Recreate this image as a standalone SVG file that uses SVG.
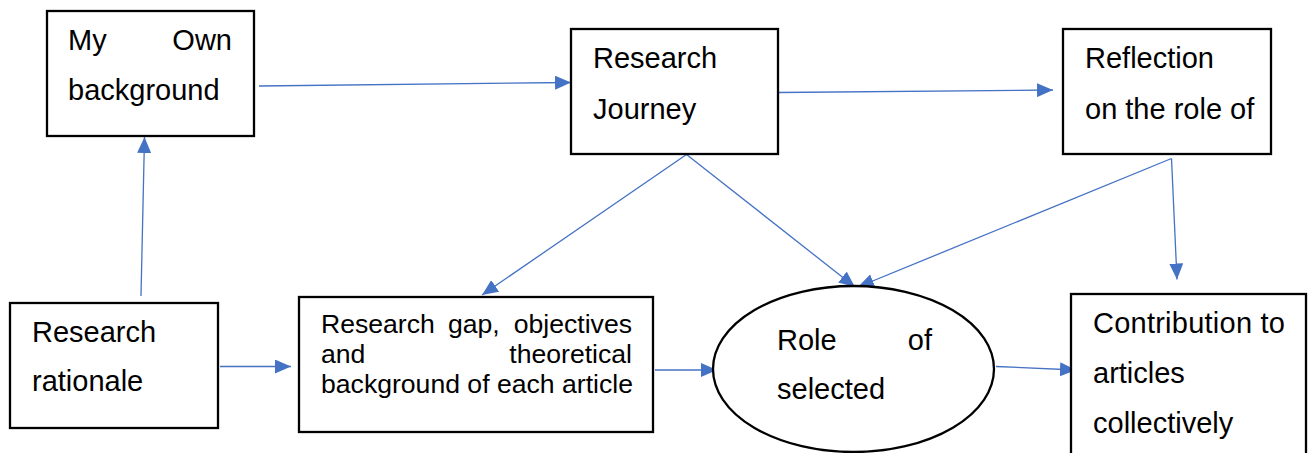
<svg xmlns="http://www.w3.org/2000/svg" width="1314" height="453" viewBox="0 0 1314 453">
  <style>
    .box { fill: #ffffff; stroke: #000000; stroke-width: 2.3; }
    .lbl { font-family: "Liberation Sans", Arial, sans-serif; font-size: 29px; fill: #000000; }
    .sm { font-size: 26.6px; }
    .end { text-anchor: end; }
    .link { fill: none; stroke: #4472C4; stroke-width: 1.3; marker-end: url(#arrow); }
  </style>
  <defs>
    <marker id="arrow" markerUnits="userSpaceOnUse" markerWidth="16" markerHeight="14" refX="16" refY="7" orient="auto">
      <path d="M0,0 L16,7 L0,14 Z" fill="#4472C4"/>
    </marker>
  </defs>
  <rect width="1314" height="453" fill="#ffffff"/>

  <g id="connectors">
    <line class="link" x1="141" y1="296" x2="144.5" y2="137"/>
    <line class="link" x1="259" y1="86" x2="571" y2="82.5"/>
    <line class="link" x1="778" y1="92.5" x2="1053" y2="90"/>
    <line class="link" x1="686.5" y1="154.5" x2="482" y2="295"/>
    <line class="link" x1="686.5" y1="154.5" x2="855" y2="287"/>
    <line class="link" x1="1171.5" y1="158.5" x2="858" y2="287"/>
    <line class="link" x1="1171.5" y1="158.5" x2="1177" y2="279.5"/>
    <line class="link" x1="220" y1="366.5" x2="291" y2="366.5"/>
    <line class="link" x1="655" y1="370" x2="717" y2="370"/>
    <line class="link" x1="996" y1="366.5" x2="1076" y2="370"/>
  </g>

  <g id="own-background">
    <rect class="box" x="47" y="11" width="207" height="125"/>
    <text class="lbl" x="68" y="50">My</text>
    <text class="lbl end" x="232" y="50">Own</text>
    <text class="lbl" x="68" y="100">background</text>
  </g>

  <g id="research-journey">
    <rect class="box" x="571" y="29" width="207" height="125"/>
    <text class="lbl" x="593" y="68">Research</text>
    <text class="lbl" x="593" y="119">Journey</text>
  </g>

  <g id="reflection">
    <rect class="box" x="1063" y="29" width="208" height="125"/>
    <text class="lbl" x="1085" y="68">Reflection</text>
    <text class="lbl" x="1085" y="119">on the role of</text>
  </g>

  <g id="research-rationale">
    <rect class="box" x="10" y="303" width="208" height="125"/>
    <text class="lbl" x="32" y="342">Research</text>
    <text class="lbl" x="32" y="391">rationale</text>
  </g>

  <g id="research-gap">
    <rect class="box" x="299" y="297" width="354" height="135"/>
    <text class="lbl sm" x="321" y="333">Research</text>
    <text class="lbl sm" x="448" y="333">gap,</text>
    <text class="lbl sm end" x="632" y="333">objectives</text>
    <text class="lbl sm" x="321" y="363">and</text>
    <text class="lbl sm end" x="632" y="363">theoretical</text>
    <text class="lbl sm" x="321" y="393">background of each article</text>
  </g>

  <g id="role-selected">
    <ellipse class="box" cx="853.5" cy="369" rx="140.5" ry="83"/>
    <text class="lbl" x="777" y="350">Role</text>
    <text class="lbl end" x="932" y="350">of</text>
    <text class="lbl" x="777" y="399">selected</text>
  </g>

  <g id="contribution">
    <rect class="box" x="1071" y="294" width="235" height="170"/>
    <text class="lbl" x="1093" y="333" textLength="192" lengthAdjust="spacing">Contribution to</text>
    <text class="lbl" x="1093" y="383">articles</text>
    <text class="lbl" x="1093" y="433">collectively</text>
  </g>
</svg>
